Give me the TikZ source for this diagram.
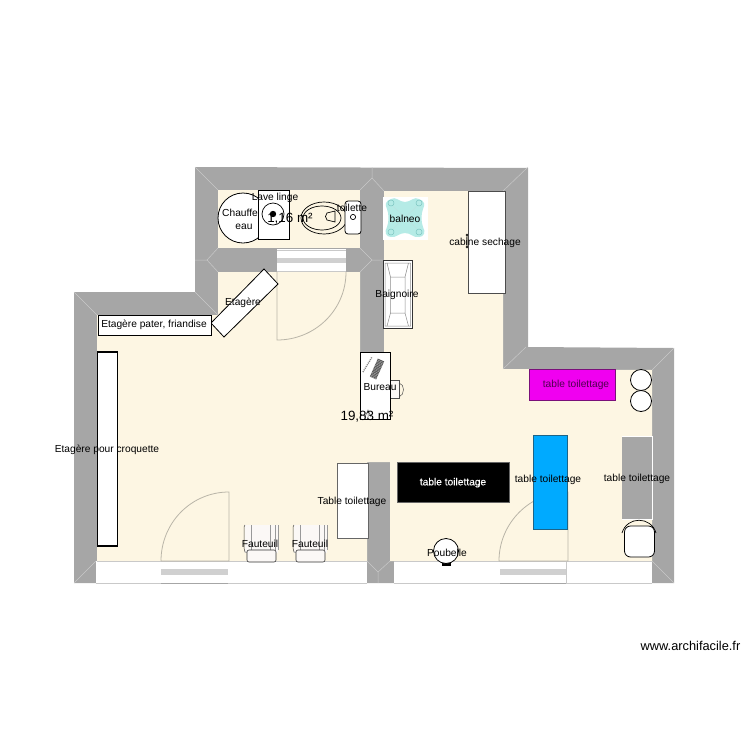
\documentclass[tikz,border=0pt]{standalone}
\usepackage{fontspec}
\setmainfont{Liberation Sans}
\definecolor{wallc}{HTML}{A6A6A6}
\definecolor{floorc}{HTML}{FDF6E3}
\definecolor{miter}{HTML}{C9C9C9}
\definecolor{doorc}{HTML}{B9B5A8}
\definecolor{stripe}{HTML}{D0D0D0}
\definecolor{chairc}{HTML}{FBF8F6}
\definecolor{balneoc}{HTML}{B5EBE6}
\definecolor{balneod}{HTML}{7CC4C0}
\definecolor{bluet}{HTML}{00AAFF}
\definecolor{bluee}{HTML}{1C6488}
\definecolor{magt}{HTML}{F000F0}
\definecolor{mage}{HTML}{7A107A}
\definecolor{magl}{HTML}{500050}
\tikzset{
  x=1pt,y=-1pt,
  lbl/.style={font=\fontsize{10.2}{12}\selectfont,inner sep=0pt,text=black,yshift=-.7pt},
  area/.style={font=\fontsize{13.4}{15}\selectfont,inner sep=0pt,text=black},
  miterline/.style={draw=miter,line width=.5pt},
  doorline/.style={draw=doorc,line width=.8pt},
  furn/.style={draw=black,line width=.8pt,fill=white},
  band/.style={draw=none,fill=white},
}
\begin{document}
\begin{tikzpicture}
\useasboundingbox (0,0) rectangle (750,750);
% walls
\fill[wallc] (195,167) -- (528,168) -- (528,347) -- (674,348) -- (674,583) -- (74,583) -- (74,292) -- (195,292) -- cycle;
% floors
\fill[floorc] (218,190) rectangle (360,248);
\fill[floorc] (97,315) -- (218,315) -- (218,272) -- (360,272) -- (360,352) -- (384,352) -- (384,191) -- (503,191) -- (503,369) -- (652,370) -- (652,561) -- (390,561) -- (390,462) -- (367,462) -- (367,561) -- (97,561) -- cycle;
% white bands
\fill[band] (96,561) rectangle (367,583);
\fill[band] (394,561) rectangle (652,583);
\draw[draw=miter,line width=.6pt] (96,583.5) -- (367,583.5) (394,583.5) -- (652,583.5);
\draw[draw=miter,line width=.6pt] (97,561) -- (367,561) (394,561) -- (652,561);
% mitres
\draw[miterline] (195,167) -- (218,190) (195,260) -- (207,260) (218,248) -- (207,260) -- (218,272)
 (360,248) -- (372,260) -- (360,272) (372,260) -- (384,260)
 (372,167) -- (372,178) (360,190) -- (372,178) -- (384,191)
 (528,167) -- (503,191) (526,347) -- (503,369) (674,348) -- (652,370) (652,561) -- (674,583)
 (195,292) -- (218,315) (74,292) -- (97,315) (96,561) -- (74,583)
 (367,561) -- (378,572) -- (390,561) (378,572) -- (378,583);
% top door
\fill[white] (277,249) rectangle (346,271);
\fill[stripe] (277,257.5) rectangle (346,263);
\draw[draw=miter,line width=.6pt] (277,250) -- (346,250) (277,271) -- (346,271);
\draw[doorline] (277,272) -- (277,340) .. controls (315,340) and (346,310) .. (346,272);
% left door
\fill[stripe] (161,569) rectangle (228,575);
\draw[draw=black!35,line width=.7pt] (161,583) -- (228,583);
\draw[doorline] (161,561) -- (229,561) -- (229,492) .. controls (191,492) and (161,523) .. (161,561);
% right door
\fill[stripe] (500,569) rectangle (566,575);
\draw[draw=black!35,line width=.7pt] (500,583) -- (566,583);
\draw[draw=miter,line width=.6pt] (566.5,561) -- (566.5,583);
\draw[doorline] (499,561) -- (568,561) -- (568,492) .. controls (530,492) and (499,523) .. (499,561);
% Chauffe eau
\draw[furn] (243,218) circle[radius=25];
\node[lbl] (chauffe) at (240,212) {Chauffe};
\node[lbl] (eau) at (244,226) {eau};
% lave linge
\draw[furn] (258,190) rectangle (289.5,239.5);
\draw[black,line width=.7pt] (273,214) circle[radius=11];
\fill[black] (273,214) circle[radius=3.2];
\node[lbl] (lave) at (275,197) {Lave linge};
% toilet
\draw[black,line width=.7pt,fill=floorc] (324,218) ellipse[x radius=23,y radius=16];
\draw[black,line width=.7pt] (322,218) ellipse[x radius=19,y radius=12];
\draw[black,line width=.7pt] (327,213) -- (335,211) -- (335,222) -- (327,220) .. controls (325,218) and (325,215) .. (327,213) -- cycle;
\draw[furn,rounded corners=3pt] (345,201) rectangle (361,234);
\draw[black,line width=.7pt] (353,217) circle[radius=2.6];
\node[lbl] (toilette) at (352,207) {toilette};
\node[area] (a116) at (290,218.5) {1,16 m²};
% balneo
\fill[white] (383,197) rectangle (428,240);
\fill[balneoc] (391,199) .. controls (396,196) and (399,202) .. (405,202) .. controls (411,202) and (414,196) .. (419,199) .. controls (425,201) and (425,205) .. (423,209) .. controls (421,214) and (421,222) .. (423,227) .. controls (426,232) and (424,237) .. (419,237) .. controls (413,238) and (411,233) .. (405,233) .. controls (399,233) and (396,238) .. (391,237) .. controls (386,237) and (384,232) .. (387,227) .. controls (389,222) and (389,214) .. (387,209) .. controls (385,205) and (385,201) .. (391,199) -- cycle;
\draw[balneod,line width=.5pt] (391,203) circle[radius=3] (419,203) circle[radius=3] (391,232) circle[radius=3] (419,232) circle[radius=3];
\draw[balneod!50,line width=.3pt] (393,206) -- (417,229) (417,206) -- (393,229);
\node[lbl] (balneo) at (405,218) {balneo};
% cabine
\draw[black,line width=.6pt] (467,235) circle[radius=1] (467,247) circle[radius=1] (467,236) -- (467,246);
\draw[draw=black!70,line width=.9pt,fill=white] (468.5,191) rectangle (505.5,293);
\node[lbl] (cabine) at (485,242) {cabine sechage};
% baignoire
\draw[furn,draw=black!80] (383,260.5) rectangle (412.5,328);
\draw[black!45,line width=.5pt] (385,263) rectangle (410.5,326) (390.5,277) rectangle (405,313)
 (387,263) -- (390.5,277) (408.5,263) -- (405,277) (387,326) -- (390.5,313) (408.5,326) -- (405,313);
\node[lbl] (baignoire) at (397,294) {Baignoire};
% etageres
\draw[draw=black,line width=.8pt,fill=white] (264,269) -- (278,284) -- (224,337) -- (211,323) -- cycle;
\node[lbl] (etag) at (243,302) {Etagère};
\draw[furn] (98,315.5) rectangle (211,335);
\node[lbl] (pater) at (154,324.5) {Etagère pater, friandise};
\draw[draw=black,line width=1.2pt,fill=white] (97.5,352) rectangle (117.5,546);
\node[lbl] (croq) at (107,449) {Etagère pour croquette};
% chair behind desk and desk
\draw[draw=black!70,line width=.5pt,fill=chairc] (388,380.5) -- (399,380.5) -- (399,398.5) -- (388,398.5);
\draw[draw=black!70,line width=.5pt] (399,383) .. controls (405,384) and (405,395) .. (399,397);
\draw[furn] (360.5,352) rectangle (390,419);
\draw[black!50,line width=1.4pt,dash pattern=on 1pt off 1pt] (363,372) -- (372,357);
\draw[black!65,line width=7pt,dash pattern=on 1pt off .5pt] (381,360) -- (373,378);
\node[lbl] (bureau) at (380,386) {Bureau};
\draw[black!70,line width=.5pt] (365,417) -- (368,410) -- (371,417) (368,410) -- (368,417);
\node[area] (a1983) at (367,417) {19,83 m²};
% table toilettage white
\draw[draw=black!60,line width=1pt,fill=white] (337,463) rectangle (368,538);
\node[lbl] (table1) at (352,501) {Table toilettage};
% fauteuils
\foreach \n/\dx in {a/0,b/49}{
  \begin{scope}[xshift=\dx]
  \fill[chairc] (245,525) rectangle (278,553);
  \draw[black!70,line width=.5pt] (247,552) -- (245,552) -- (244,548) -- (244,527) -- (245,525);
  \draw[black!40,line width=.5pt] (251,525) -- (251,550) (270,525) -- (270,550) (275,525) -- (275,550) (278,525) -- (278,550);
  \draw[draw=black!80,line width=.6pt,fill=chairc,rounded corners=2pt] (247,550) rectangle (276,562);
  \end{scope}
}
\node[lbl] (f1) at (260,543) {Fauteuil};
\node[lbl] (f2) at (310,543) {Fauteuil};
% black table
\fill[black] (397,462) rectangle (509,502);
\draw[draw=black!60!white,line width=.5pt] (397,462) rectangle (509,502);
\node[lbl,text=white,font=\fontsize{10.2}{12}\selectfont\addfontfeature{FakeBold=.4}] (table2) at (453,482) {table toilettage};
% poubelle
\fill[black] (442,562) rectangle (451,566);
\draw[furn] (446,551) circle[radius=12.5];
\node[lbl] (poubelle) at (447,552) {Poubelle};
% blue table
\draw[draw=bluee,line width=1pt,fill=bluet] (533,435) rectangle (567.5,529);
\node[lbl] (table3) at (548,479) {table toilettage};
% magenta table
\draw[draw=mage,line width=1pt,fill=magt] (529,369) rectangle (615,400.5);
\node[lbl,text=magl] (table4) at (576,384.5) {table toilettage};
% circles
\draw[furn] (641,380) circle[radius=10.5];
\draw[furn] (641,401) circle[radius=10.5];
% grey table
\fill[wallc] (622,436) rectangle (652,519);
\draw[white,line width=.7pt] (622,436) -- (652.5,436) -- (652.5,519) -- (622,519);
\node[lbl] (table5) at (637,478) {table toilettage};
% sink
\draw[black,line width=.7pt] (622,533) .. controls (627,516) and (651,516) .. (656,533);
\draw[furn,rounded corners=6pt] (624.5,526) rectangle (654.5,557);
% credit
\node[font=\fontsize{12.8}{14}\selectfont,inner sep=0pt] (credit) at (690.5,645.5) {www.archifacile.fr};
\end{tikzpicture}
\end{document}
